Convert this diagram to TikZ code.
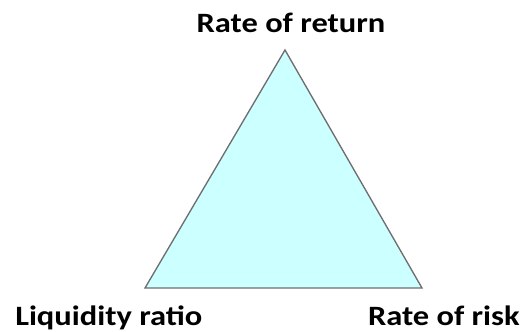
\documentclass[tikz,border=0pt]{standalone}
\usepackage{fontspec}
\setmainfont{Carlito}
\usetikzlibrary{positioning}

\definecolor{triFill}{RGB}{204,255,255}
\definecolor{triEdge}{RGB}{110,110,110}

\begin{document}
\begin{tikzpicture}[x=0.75pt, y=-0.75pt,
  lbl/.style={font=\addfontfeature{FakeStretch=1.16}\fontsize{21}{25}\selectfont\bfseries, inner sep=0pt}]
\useasboundingbox (0,0) rectangle (523,331);
\coordinate (top) at (285,50);
\coordinate (left) at (145,288);
\coordinate (right) at (422,288);
\filldraw[fill=triFill, draw=triEdge, line width=1pt, line join=miter] (top) -- (left) -- (right) -- cycle;
\node[lbl, anchor=base] (ret) at (291,33) {Rate of return};
\node[lbl, anchor=base west] (liq) at (15,325) {Liquidity ratio};
\node[lbl, anchor=base east] (risk) at (520,325) {Rate of risk};
\end{tikzpicture}
\end{document}
